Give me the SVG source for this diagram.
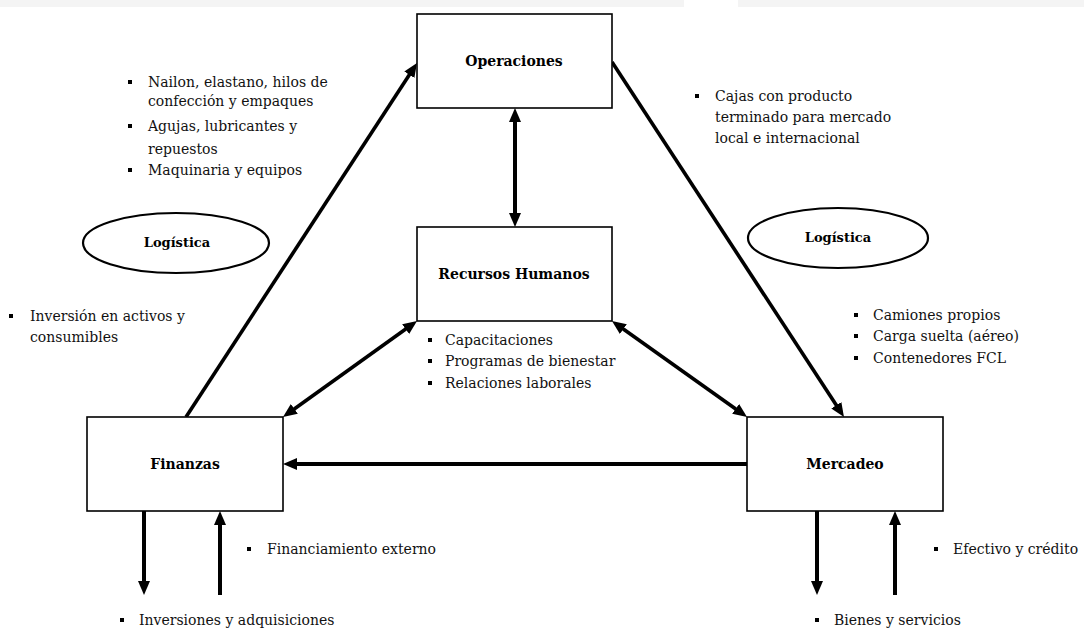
<svg xmlns="http://www.w3.org/2000/svg" width="1084" height="629" viewBox="0 0 1084 629">
  <style>
    .box { fill: #ffffff; stroke: #000000; stroke-width: 1.6; }
    .oval { fill: #ffffff; stroke: #000000; stroke-width: 2.2; }
    .title { font-family: "DejaVu Serif", "Liberation Serif", serif; font-size: 14px; font-weight: bold; fill: #000; text-anchor: middle; }
    .oval-title { font-family: "DejaVu Serif", "Liberation Serif", serif; font-size: 13px; font-weight: bold; fill: #000; text-anchor: middle; }
    .item { font-family: "DejaVu Serif", "Liberation Serif", serif; font-size: 14px; fill: #111; }
    .bullet { fill: #000; }
    .flow { fill: none; stroke: #000; stroke-width: 4; }
    .diag { fill: none; stroke: #000; stroke-width: 3.6; }
  </style>
  <defs>
    <marker id="head" viewBox="0 0 14 12" markerWidth="14" markerHeight="12" refX="4" refY="6" orient="auto-start-reverse" markerUnits="userSpaceOnUse">
      <path d="M0,0 L14,6 L0,12 z" fill="#000"/>
    </marker>
  </defs>

  <rect x="0" y="0" width="1084" height="629" fill="#ffffff"/>
  <!-- faint strip along the top edge -->
  <rect x="0" y="0" width="684" height="7" fill="#f4f4f4"/>
  <rect x="738" y="0" width="346" height="7" fill="#f4f4f4"/>

  <!-- connectors -->
  <g id="connectors">
    <line class="diag" x1="186" y1="417" x2="411.5" y2="71.4" marker-end="url(#head)"/>
    <line class="diag" x1="612" y1="62" x2="838.5" y2="408.6" marker-end="url(#head)"/>
    <line class="flow" x1="515" y1="118" x2="515" y2="217" marker-start="url(#head)" marker-end="url(#head)"/>
    <line class="diag" x1="408.9" y1="326.8" x2="291.1" y2="411.2" marker-start="url(#head)" marker-end="url(#head)"/>
    <line class="diag" x1="620.1" y1="326.8" x2="738.9" y2="411.2" marker-start="url(#head)" marker-end="url(#head)"/>
    <line class="flow" x1="747" y1="464" x2="293" y2="464" marker-end="url(#head)"/>
    <line class="flow" x1="144" y1="511" x2="144" y2="585" marker-end="url(#head)"/>
    <line class="flow" x1="220" y1="595" x2="220" y2="521" marker-end="url(#head)"/>
    <line class="flow" x1="817" y1="511" x2="817" y2="585" marker-end="url(#head)"/>
    <line class="flow" x1="895" y1="595" x2="895" y2="521" marker-end="url(#head)"/>
  </g>

  <!-- nodes -->
  <g id="operaciones">
    <rect class="box" x="417" y="14" width="195" height="94"/>
    <text class="title" x="514" y="66">Operaciones</text>
  </g>
  <g id="recursos-humanos">
    <rect class="box" x="417" y="227" width="195" height="94"/>
    <text class="title" x="514" y="279">Recursos Humanos</text>
  </g>
  <g id="finanzas">
    <rect class="box" x="87" y="417" width="196" height="94"/>
    <text class="title" x="185" y="469">Finanzas</text>
  </g>
  <g id="mercadeo">
    <rect class="box" x="747" y="417" width="196" height="94"/>
    <text class="title" x="845" y="469">Mercadeo</text>
  </g>
  <g id="logistica-izq">
    <ellipse class="oval" cx="176" cy="243" rx="93" ry="30"/>
    <text class="oval-title" x="177" y="247">Logística</text>
  </g>
  <g id="logistica-der">
    <ellipse class="oval" cx="838" cy="238" rx="90" ry="30"/>
    <text class="oval-title" x="838" y="242">Logística</text>
  </g>

  <!-- flow annotations -->
  <g id="insumos-operaciones">
    <rect class="bullet" x="128" y="80" width="4" height="4"/>
    <text class="item" x="148" y="87">Nailon, elastano, hilos de</text>
    <text class="item" x="148" y="106">confección y empaques</text>
    <rect class="bullet" x="128" y="124" width="4" height="4"/>
    <text class="item" x="148" y="131">Agujas, lubricantes y</text>
    <text class="item" x="148" y="154">repuestos</text>
    <rect class="bullet" x="128" y="168" width="4" height="4"/>
    <text class="item" x="148" y="175">Maquinaria y equipos</text>
  </g>
  <g id="producto-terminado">
    <rect class="bullet" x="695" y="94" width="4" height="4"/>
    <text class="item" x="715" y="101">Cajas con producto</text>
    <text class="item" x="715" y="122">terminado para mercado</text>
    <text class="item" x="715" y="143">local e internacional</text>
  </g>
  <g id="inversion-activos">
    <rect class="bullet" x="9" y="314" width="4" height="4"/>
    <text class="item" x="30" y="321">Inversión en activos y</text>
    <text class="item" x="30" y="342">consumibles</text>
  </g>
  <g id="rrhh-items">
    <rect class="bullet" x="428" y="338" width="4" height="4"/>
    <text class="item" x="445" y="345">Capacitaciones</text>
    <rect class="bullet" x="428" y="359" width="4" height="4"/>
    <text class="item" x="445" y="366">Programas de bienestar</text>
    <rect class="bullet" x="428" y="381" width="4" height="4"/>
    <text class="item" x="445" y="388">Relaciones laborales</text>
  </g>
  <g id="transporte">
    <rect class="bullet" x="854" y="313" width="4" height="4"/>
    <text class="item" x="873" y="320">Camiones propios</text>
    <rect class="bullet" x="854" y="334" width="4" height="4"/>
    <text class="item" x="873" y="341">Carga suelta (aéreo)</text>
    <rect class="bullet" x="854" y="356" width="4" height="4"/>
    <text class="item" x="873" y="363">Contenedores FCL</text>
  </g>
  <g id="finanzas-items">
    <rect class="bullet" x="247" y="547" width="4" height="4"/>
    <text class="item" x="267" y="554">Financiamiento externo</text>
    <rect class="bullet" x="120" y="618" width="4" height="4"/>
    <text class="item" x="139" y="625">Inversiones y adquisiciones</text>
  </g>
  <g id="mercadeo-items">
    <rect class="bullet" x="934" y="547" width="4" height="4"/>
    <text class="item" x="953" y="554">Efectivo y crédito</text>
    <rect class="bullet" x="815" y="618" width="4" height="4"/>
    <text class="item" x="834" y="625">Bienes y servicios</text>
  </g>
</svg>
